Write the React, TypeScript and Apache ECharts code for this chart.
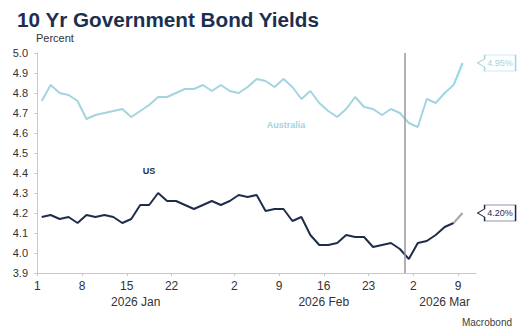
import React, { useEffect, useRef } from "react";
import * as echarts from "echarts";

// Weekday dates on the x axis (Jan 1 2026 .. Mar 10 2026)
const dates: string[] = [
  "2026-01-01", "2026-01-02",
  "2026-01-05", "2026-01-06", "2026-01-07", "2026-01-08", "2026-01-09",
  "2026-01-12", "2026-01-13", "2026-01-14", "2026-01-15", "2026-01-16",
  "2026-01-19", "2026-01-20", "2026-01-21", "2026-01-22", "2026-01-23",
  "2026-01-26", "2026-01-27", "2026-01-28", "2026-01-29", "2026-01-30",
  "2026-02-02", "2026-02-03", "2026-02-04", "2026-02-05", "2026-02-06",
  "2026-02-09", "2026-02-10", "2026-02-11", "2026-02-12", "2026-02-13",
  "2026-02-16", "2026-02-17", "2026-02-18", "2026-02-19", "2026-02-20",
  "2026-02-23", "2026-02-24", "2026-02-25", "2026-02-26", "2026-02-27",
  "2026-03-02", "2026-03-03", "2026-03-04", "2026-03-05", "2026-03-06",
  "2026-03-09", "2026-03-10",
];

// 10 Yr yields, percent (Jan 1 .. Mar 9)
const australia: number[] = [
  4.76, 4.84, 4.80, 4.79, 4.76, 4.67, 4.69, 4.70, 4.71, 4.72,
  4.68, 4.71, 4.74, 4.78, 4.78, 4.80, 4.82, 4.82, 4.84, 4.81,
  4.84, 4.81, 4.80, 4.83, 4.87, 4.86, 4.83, 4.87, 4.83, 4.77,
  4.81, 4.75, 4.71, 4.68, 4.72, 4.78, 4.73, 4.72, 4.69, 4.72,
  4.70, 4.65, 4.63, 4.77, 4.75, 4.80, 4.84, 4.95,
];
const us: number[] = [
  4.18, 4.19, 4.17, 4.18, 4.15, 4.19, 4.18, 4.19, 4.18, 4.15,
  4.17, 4.24, 4.24, 4.30, 4.26, 4.26, 4.24, 4.22, 4.24, 4.26,
  4.24, 4.26, 4.29, 4.28, 4.29, 4.21, 4.22, 4.22, 4.16, 4.18,
  4.09, 4.04, 4.04, 4.05, 4.09, 4.08, 4.08, 4.03, 4.04, 4.05,
  4.02, 3.97, 4.05, 4.06, 4.09, 4.13, 4.15, 4.20,
];

const dayTickDates: string[] = [
  "2026-01-01", "2026-01-08", "2026-01-15", "2026-01-22",
  "2026-02-02", "2026-02-09", "2026-02-16", "2026-02-23",
  "2026-03-02", "2026-03-09",
];
const monthNames: string[] = ["Jan", "Feb", "Mar"];
const eventDate = "2026-02-27";

const AUS_COLOR = "#a3d4df";
const AUS_LAST = "#8fdaea";
const US_COLOR = "#1f2d4d";
const US_LAST = "#a6a6a6";
const FONT = "'Liberation Sans', Arial, sans-serif";

const X_MIN = -0.25;
const X_MAX = dates.length;

function toPoints(vals: number[]) {
  return vals.map((v, i) => [i + 0.5, v]);
}

function tagMarkPoint(vals: number[], color: string) {
  const last = vals.length - 1;
  return {
    symbol: "path://M0,8L7,4L7,0L38,0L38,16L7,16L7,12Z",
    symbolSize: [38, 16],
    symbolOffset: [34, 0],
    silent: true,
    itemStyle: { color: "#ffffff", borderColor: color, borderWidth: 1 },
    label: {
      show: true,
      position: "inside",
      offset: [3.5, 0],
      color: color,
      fontSize: 9,
      fontFamily: FONT,
      formatter: (p: any) => Number(p.value).toFixed(2) + "%",
    },
    data: [{ coord: [last + 0.5, vals[last]], value: vals[last] }],
  };
}

export default function App() {
  const ref = useRef<HTMLDivElement>(null);

  useEffect(() => {
    if (!ref.current) return;
    const chart = echarts.init(ref.current, undefined, { renderer: "svg" });

    const tickIdx = dayTickDates.map((d) => dates.indexOf(d));
    // month centres
    const monthCenters: number[] = [];
    const monthLabels: Record<string, string> = {};
    for (let m = 0; m < monthNames.length; m++) {
      const mm = String(m + 1).padStart(2, "0");
      const idx = dates
        .map((d, i) => (d.slice(5, 7) === mm ? i : -1))
        .filter((i) => i >= 0);
      const start = idx[0];
      const end = Math.min(idx[idx.length - 1] + 1, X_MAX);
      const c = (start + end) / 2;
      monthCenters.push(c);
      monthLabels[c.toFixed(2)] = dates[start].slice(0, 4) + " " + monthNames[m];
    }

    const ausPts = toPoints(australia);
    const usPts = toPoints(us);
    const n = australia.length;

    chart.setOption({
      animation: false,
      textStyle: { fontFamily: FONT },
      title: {
        text: "10 Yr Government Bond Yields",
        left: 12,
        top: 4,
        textStyle: {
          fontSize: 20.7,
          fontWeight: "bold",
          color: "#1d2f50",
          fontFamily: FONT,
        },
      },
      grid: { left: 35, right: 52, top: 53, bottom: 61, containLabel: false },
      xAxis: [
        {
          type: "value",
          min: X_MIN,
          max: X_MAX,
          position: "bottom",
          splitLine: { show: false },
          axisLine: { show: true, lineStyle: { color: "#c8c8c8", width: 1 } },
          axisTick: {
            show: true,
            length: 3,
            customValues: tickIdx,
            lineStyle: { color: "#c8c8c8" },
          },
          axisLabel: {
            customValues: tickIdx,
            margin: 7,
            fontSize: 12,
            color: "#333333",
            fontFamily: FONT,
            formatter: (v: number) => {
              const d = dates[Math.round(v)];
              return d ? String(Number(d.slice(8))) : "";
            },
          },
        },
        {
          type: "value",
          min: X_MIN,
          max: X_MAX,
          position: "bottom",
          offset: 16,
          splitLine: { show: false },
          axisLine: { show: false },
          axisTick: { show: false },
          axisLabel: {
            customValues: monthCenters,
            margin: 7,
            fontSize: 12,
            color: "#333333",
            fontFamily: FONT,
            formatter: (v: number) => monthLabels[v.toFixed(2)] || "",
          },
        },
      ],
      yAxis: {
        type: "value",
        min: 3.9,
        max: 5.0,
        interval: 0.1,
        splitLine: { show: false },
        axisLine: { show: true, lineStyle: { color: "#c8c8c8", width: 1 } },
        axisTick: { show: true, length: 3, lineStyle: { color: "#c8c8c8" } },
        axisLabel: {
          margin: 7,
          fontSize: 11,
          color: "#333333",
          fontFamily: FONT,
          formatter: (v: number) => v.toFixed(1),
        },
      },
      graphic: [
        {
          type: "text",
          left: 36,
          top: 32,
          style: { text: "Percent", fontSize: 11, fill: "#333333", fontFamily: FONT },
        },
        {
          type: "text",
          x: 149,
          y: 171,
          style: {
            text: "US",
            fontSize: 9,
            fontWeight: "bold",
            fill: US_COLOR,
            fontFamily: FONT,
            align: "center",
            verticalAlign: "middle",
          },
        },
        {
          type: "text",
          x: 286,
          y: 125,
          style: {
            text: "Australia",
            fontSize: 9,
            fontWeight: "bold",
            fill: AUS_COLOR,
            fontFamily: FONT,
            align: "center",
            verticalAlign: "middle",
          },
        },
        {
          type: "text",
          right: 16,
          top: 317,
          style: { text: "Macrobond", fontSize: 10, fill: "#404040", fontFamily: FONT },
        },
      ],
      series: [
        {
          name: "Australia",
          type: "line",
          data: ausPts.slice(0, n - 1),
          symbol: "none",
          lineStyle: { color: AUS_COLOR, width: 2 },
          itemStyle: { color: AUS_COLOR },
          z: 2,
        },
        {
          name: "Australia latest",
          type: "line",
          data: ausPts.slice(n - 2),
          symbol: "none",
          clip: false,
          lineStyle: { color: AUS_LAST, width: 2 },
          itemStyle: { color: AUS_LAST },
          markPoint: tagMarkPoint(australia, AUS_COLOR),
          z: 2,
        },
        {
          name: "US",
          type: "line",
          data: usPts.slice(0, n - 1),
          symbol: "none",
          lineStyle: { color: US_COLOR, width: 2 },
          itemStyle: { color: US_COLOR },
          markLine: {
            silent: true,
            symbol: "none",
            label: { show: false },
            lineStyle: { color: "#999999", width: 1.5, type: "solid" },
            data: [{ xAxis: dates.indexOf(eventDate) }],
          },
          z: 3,
        },
        {
          name: "US latest",
          type: "line",
          data: usPts.slice(n - 2),
          symbol: "none",
          clip: false,
          lineStyle: { color: US_LAST, width: 2 },
          itemStyle: { color: US_LAST },
          markPoint: tagMarkPoint(us, US_COLOR),
          z: 3,
        },
      ],
    });

    return () => chart.dispose();
  }, []);

  return (
    <div
      ref={ref}
      style={{ position: "fixed", left: 0, top: 0, width: 528, height: 334, background: "#ffffff" }}
    />
  );
}
